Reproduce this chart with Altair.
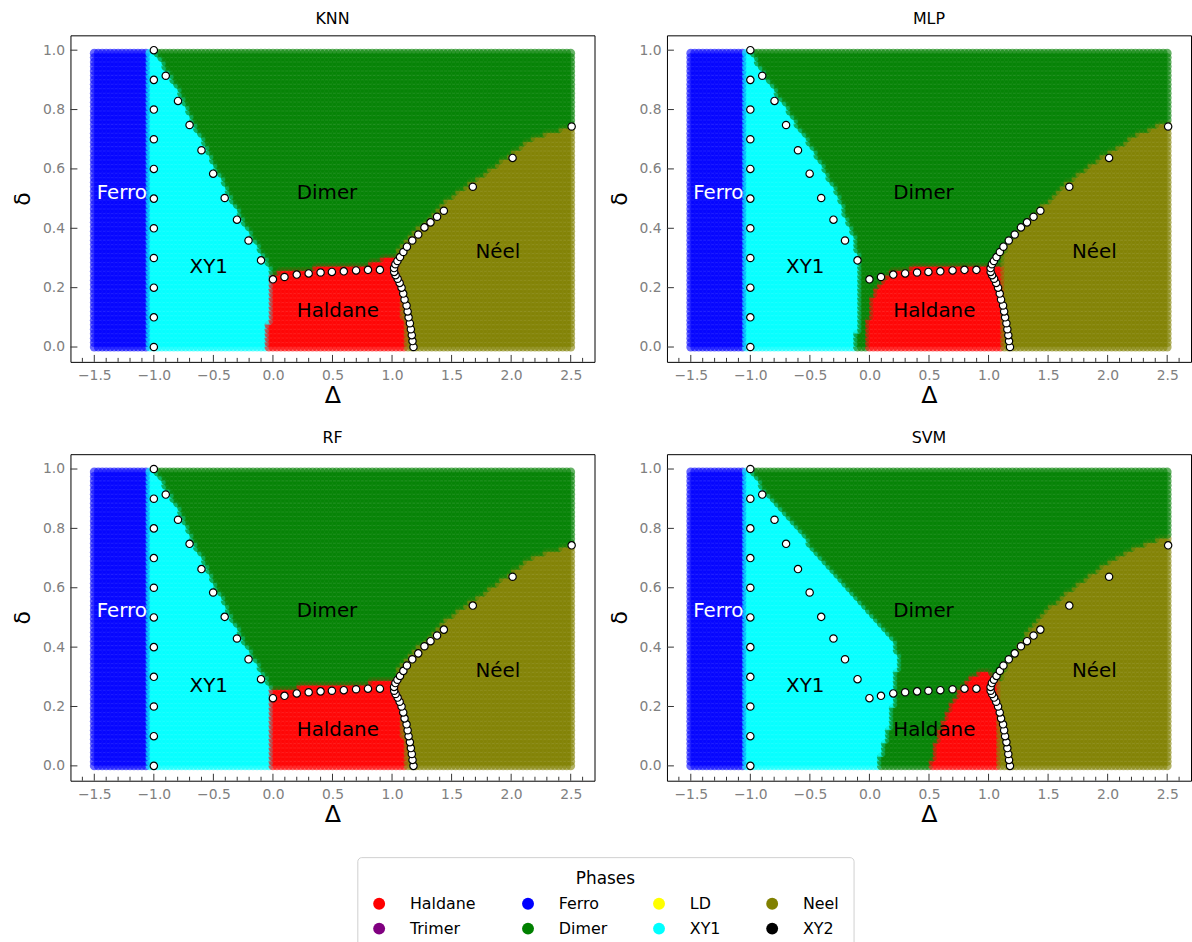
import numpy as np
import pandas as pd
import altair as alt

alt.data_transformers.disable_max_rows()

# ---- legend / colour mapping -------------------------------------------------
phase_order = ["Haldane", "Ferro", "LD", "Neel", "Trimer", "Dimer", "XY1", "XY2"]
phase_colors = ["#ff0000", "#0000ff", "#ffff00", "#808000",
                "#800080", "#008000", "#00ffff", "#000000"]

models = ["KNN", "MLP", "RF", "SVM"]

# ---- classifier sampling grid ------------------------------------------------
grid_D = np.round(np.linspace(-1.5, 2.5, 121), 4)
grid_d = np.round(np.linspace(0.0, 0.99, 67), 4)

# ---- predicted phase boundaries of each classifier ----------------------------
ferro_edge = -1.04

# right edge of the XY1 region (delta -> Delta)
xy1_edge = {
    "KNN": ([0.0, 0.1, 0.2, 0.25, 0.292, 0.359, 0.429, 0.502, 0.584, 0.663, 0.748, 0.829, 0.914, 0.97, 1.0],
            [-0.05, -0.03, -0.01, -0.01, -0.05, -0.15, -0.25, -0.35, -0.45, -0.55, -0.65, -0.75, -0.85, -0.95, -1.0]),
    "RF":  ([0.0, 0.1, 0.2, 0.25, 0.292, 0.359, 0.429, 0.502, 0.584, 0.663, 0.748, 0.829, 0.914, 0.97, 1.0],
            [0.0, 0.0, 0.0, -0.01, -0.05, -0.15, -0.25, -0.35, -0.45, -0.55, -0.65, -0.75, -0.85, -0.95, -1.0]),
    "MLP": ([0.0, 0.1, 0.2, 0.3, 0.4, 0.5, 0.6, 0.7, 0.8, 0.9, 1.0],
            [-0.11, -0.09, -0.08, -0.08, -0.15, -0.25, -0.37, -0.52, -0.68, -0.85, -1.0]),
    "SVM": ([0.0, 0.07, 0.1, 0.2, 0.3, 0.36, 0.43, 0.5, 0.6, 0.7, 0.8, 0.9, 1.0],
            [0.08, 0.12, 0.15, 0.2, 0.22, 0.25, 0.2, 0.03, -0.18, -0.4, -0.6, -0.82, -1.0]),
}

# left edge of the Haldane region (delta -> Delta)
hal_left = {
    "KNN": ([0.0, 1.0], [-9.0, -9.0]),
    "RF":  ([0.0, 1.0], [-9.0, -9.0]),
    "MLP": ([0.0, 0.1, 0.18, 0.24, 0.28], [-0.02, 0.0, 0.04, 0.12, 0.25]),
    "SVM": ([0.0, 0.08, 0.19, 0.26, 0.31, 0.33, 0.34], [0.52, 0.56, 0.66, 0.77, 0.88, 0.97, 9.0]),
}

# upper edge of the Haldane region (Delta -> delta)
hal_top = {
    "KNN": ([-0.1, 0.0, 0.2, 0.5, 0.8, 0.9, 1.05, 1.2], [0.25, 0.25, 0.265, 0.275, 0.285, 0.3, 0.31, 0.3]),
    "RF":  ([-0.1, 0.0, 0.2, 0.5, 0.8, 0.9, 1.05, 1.2], [0.26, 0.26, 0.27, 0.275, 0.285, 0.29, 0.3, 0.3]),
    "MLP": ([-0.1, 0.1, 0.2, 0.5, 1.0, 1.2], [0.2, 0.22, 0.26, 0.28, 0.28, 0.28]),
    "SVM": ([0.5, 0.9, 1.0, 1.1], [0.33, 0.33, 0.32, 0.3]),
}

# left edge of the Neel region (delta -> Delta)
neel_left = {
    "KNN": ([0.0, 0.1, 0.2, 0.26, 0.3, 0.33, 0.37, 0.43, 0.5, 0.6, 0.7, 0.735, 0.75, 1.0],
            [1.1, 1.1, 1.08, 1.05, 1.04, 1.05, 1.12, 1.3, 1.47, 1.82, 2.16, 2.4, 2.7, 9.0]),
    "RF":  ([0.0, 0.1, 0.2, 0.26, 0.3, 0.33, 0.37, 0.43, 0.5, 0.6, 0.7, 0.735, 0.75, 1.0],
            [1.1, 1.1, 1.08, 1.05, 1.04, 1.05, 1.12, 1.3, 1.47, 1.82, 2.16, 2.4, 2.7, 9.0]),
    "MLP": ([0.0, 0.2, 0.27, 0.3, 0.35, 0.45, 0.55, 0.65, 0.72, 0.78, 1.0],
            [1.12, 1.11, 1.1, 1.1, 1.17, 1.38, 1.65, 1.98, 2.25, 2.6, 9.0]),
    "SVM": ([0.0, 0.28, 0.35, 0.45, 0.53, 0.6, 0.7, 0.75, 0.79, 1.0],
            [1.08, 1.08, 1.17, 1.33, 1.5, 1.7, 2.05, 2.3, 2.6, 9.0]),
}

# ---- reference phase boundary (white markers) ---------------------------------
bnd_D = ([-1.0] * 11
         + [-0.9, -0.797, -0.7, -0.6, -0.502, -0.405, -0.302, -0.205, -0.1, 0.0]
         + [0.097, 0.2, 0.3, 0.4, 0.495, 0.595, 0.698, 0.798, 0.898]
         + [1.18, 1.172, 1.166, 1.158, 1.15, 1.139, 1.131, 1.122, 1.105, 1.094,
            1.08, 1.064, 1.047, 1.03, 1.018, 1.017, 1.028, 1.045, 1.067, 1.095,
            1.125, 1.17, 1.22, 1.272, 1.323, 1.378, 1.435]
         + [1.678, 2.012, 2.508])
bnd_d = ([0.0, 0.1, 0.2, 0.3, 0.4, 0.5, 0.6, 0.7, 0.8, 0.9, 1.0]
         + [0.914, 0.829, 0.748, 0.663, 0.584, 0.502, 0.429, 0.359, 0.292, 0.228]
         + [0.236, 0.244, 0.248, 0.251, 0.253, 0.255, 0.258, 0.26, 0.26]
         + [0.0, 0.02, 0.04, 0.06, 0.08, 0.1, 0.12, 0.14, 0.16, 0.18,
            0.2, 0.216, 0.23, 0.242, 0.253, 0.266, 0.279, 0.29, 0.303, 0.32,
            0.338, 0.359, 0.379, 0.403, 0.42, 0.439, 0.459]
         + [0.54, 0.637, 0.743])

# ---- region names written on the diagram --------------------------------------
label_text = ["Ferro", "XY1", "Dimer", "Haldane", "Néel"]
label_D = [-1.48, -0.7, 0.2, 0.2, 1.7]
label_d = [0.5, 0.25, 0.5, 0.1, 0.3]
label_color = ["white", "black", "black", "black", "black"]

# ---- axis ticks ------------------------------------------------------------------
x_major = [-1.5, -1.0, -0.5, 0.0, 0.5, 1.0, 1.5, 2.0, 2.5]
x_minor = [round(v, 1) for v in np.arange(-1.6, 2.65, 0.1) if round(v, 1) not in x_major]
y_major = [0.0, 0.2, 0.4, 0.6, 0.8, 1.0]

W, H = 528, 329


def classify(m):
    rows = []
    for d in grid_d:
        xy = np.interp(d, *xy1_edge[m])
        hl = np.interp(d, *hal_left[m])
        nl = np.interp(d, *neel_left[m])
        for D in grid_D:
            ht = np.interp(D, *hal_top[m])
            if D < ferro_edge:
                p = "Ferro"
            elif D < xy:
                p = "XY1"
            elif D > nl:
                p = "Neel"
            elif d < ht and D > hl:
                p = "Haldane"
            else:
                p = "Dimer"
            rows.append((float(D), float(d), p))
    return pd.DataFrame(rows, columns=["D", "d", "phase"])


boundary_df = pd.DataFrame({"D": bnd_D, "d": bnd_d})
labels_df = pd.DataFrame({"D": label_D, "d": label_d, "text": label_text, "tc": label_color})
xmaj_df = pd.DataFrame({"D": x_major})
xmin_df = pd.DataFrame({"D": x_minor})
ymaj_df = pd.DataFrame({"d": y_major})

xscale = alt.Scale(domain=[-1.7, 2.7], nice=False, zero=False)
yscale = alt.Scale(domain=[-0.05, 1.05], nice=False, zero=False)

legend = alt.Legend(
    title="Phases", orient="none", legendX=289, legendY=828,
    direction="horizontal", columns=4, symbolType="circle", symbolSize=144,
    symbolOpacity=1, symbolStrokeWidth=0, labelFontSize=16, labelOffset=23,
    columnPadding=44, rowPadding=9, titleFontSize=17, titleFontWeight="normal",
    titleAnchor="middle", titlePadding=8, padding=14, strokeColor="#d0d0d0",
    fillColor="white", cornerRadius=4, labelColor="black", titleColor="black",
)


def panel(m):
    cloud = alt.Chart(classify(m)).mark_circle(size=81, opacity=0.6).encode(
        x=alt.X("D:Q", scale=xscale,
                axis=alt.Axis(title="Δ", values=x_major, format=".1f", labelFlush=False)),
        y=alt.Y("d:Q", scale=yscale,
                axis=alt.Axis(title="δ", values=y_major, format=".1f", labelFlush=False)),
        color=alt.Color("phase:N", scale=alt.Scale(domain=phase_order, range=phase_colors),
                        legend=legend),
    )
    marks = alt.Chart(boundary_df).mark_circle(
        size=55, fill="white", stroke="black", strokeWidth=1.2, opacity=1, fillOpacity=1
    ).encode(x="D:Q", y="d:Q")
    names = alt.Chart(labels_df).mark_text(
        align="left", baseline="alphabetic", fontSize=20
    ).encode(x="D:Q", y="d:Q", text="text:N", color=alt.Color("tc:N", scale=None))
    tick_major = alt.Chart(xmaj_df).mark_rule(color="#333333").encode(
        x="D:Q", y=alt.value(H), y2=alt.value(H - 7))
    tick_minor = alt.Chart(xmin_df).mark_rule(color="#333333").encode(
        x="D:Q", y=alt.value(H), y2=alt.value(H - 4))
    tick_y = alt.Chart(ymaj_df).mark_rule(color="#333333").encode(
        y="d:Q", x=alt.value(0), x2=alt.value(7))
    return alt.layer(cloud, marks, names, tick_major, tick_minor, tick_y).properties(
        width=W, height=H, title=m)


top = alt.hconcat(panel("KNN"), panel("MLP"), spacing=12)
bottom = alt.hconcat(panel("RF"), panel("SVM"), spacing=12)

chart = alt.vconcat(top, bottom, spacing=21).properties(
    padding={"left": 11, "top": 7, "right": 0, "bottom": 0}
).configure(font="DejaVu Sans").configure_view(
    stroke="black", strokeWidth=1
).configure_axis(
    grid=False, ticks=False, domain=False, labelColor="#808080", labelFontSize=14,
    titleFontWeight="normal", titleColor="black",
).configure_axisX(
    labelPadding=7, titleFontSize=24, titlePadding=1
).configure_axisY(
    labelPadding=6, titleFontSize=22, titlePadding=8
).configure_title(
    fontSize=16, fontWeight="normal", offset=8, color="black"
)

chart.save("out.html", embed_options={"renderer": "svg", "actions": False})
